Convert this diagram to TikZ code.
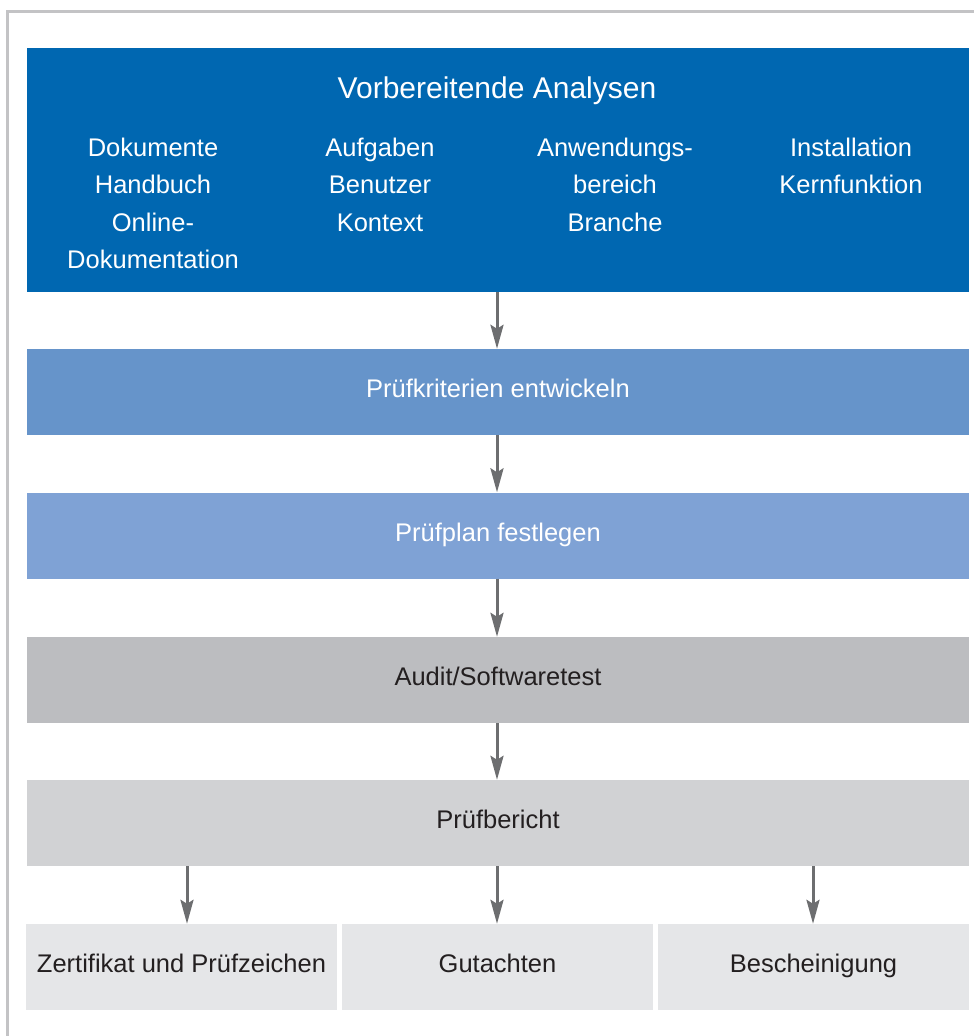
\documentclass[tikz,border=0pt]{standalone}
\usepackage{fontspec}
\setmainfont{Liberation Sans}
\usetikzlibrary{arrows.meta}
\definecolor{frame}{HTML}{C3C3C5}
\definecolor{dblue}{HTML}{0067B1}
\definecolor{mblue}{HTML}{6694CA}
\definecolor{lblue}{HTML}{7FA2D5}
\definecolor{dgray}{HTML}{BCBDC0}
\definecolor{mgray}{HTML}{D1D2D4}
\definecolor{lgray}{HTML}{E5E6E8}
\definecolor{arrgray}{HTML}{6D6E70}
\definecolor{txt}{HTML}{231F20}
\tikzset{
  bar/.style={rectangle, inner sep=0pt, minimum width=942pt, minimum height=86pt, text height=18.3pt, text depth=7pt, font=\fontsize{25.5}{37.5}\selectfont},
  leaf/.style={rectangle, inner sep=0pt, minimum width=311pt, minimum height=86pt, text height=18.3pt, text depth=7pt, fill=lgray, text=txt, font=\fontsize{25.5}{37.5}\selectfont},
  coltext/.style={inner sep=0pt, align=center, text=white, anchor=base, font=\fontsize{25.5}{37.5}\selectfont},
  arr/.style={draw=arrgray, line width=3pt, -{Stealth[length=24pt, width=13pt, inset=4pt]}, shorten >=0pt}
}
\begin{document}
\begin{tikzpicture}[x=1pt, y=-1pt]
\useasboundingbox (0,0) rectangle (974,1036);
% frame
\draw[frame, line width=3pt] (7.5,1040) -- (7.5,11.5) -- (980,11.5);
% top box
\node[rectangle, fill=dblue, inner sep=0pt, minimum width=942pt, minimum height=244pt] (ana) at (498,170) {};
\node[inner sep=0pt, anchor=base, text=white, font=\fontsize{30}{36}\selectfont] (title) at (497,98) {Vorbereitende Analysen};
% multi-line nodes: base anchor = last line's baseline (first line at y=156)
\node[coltext] (c1) at (153,268.5) {Dokumente\\Handbuch\\Online-\\Dokumentation};
\node[coltext] (c2) at (380,231) {Aufgaben\\Benutzer\\Kontext};
\node[coltext] (c3) at (615,231) {Anwendungs-\\bereich\\Branche};
\node[coltext] (c4) at (851,193.5) {Installation\\Kernfunktion};
% bars
\node[bar, fill=mblue, text=white] (b2) at (498,392) {Prüfkriterien entwickeln};
\node[bar, fill=lblue, text=white] (b3) at (498,535.5) {Prüfplan festlegen};
\node[bar, fill=dgray, text=txt] (b4) at (498,680) {Audit/Softwaretest};
\node[bar, fill=mgray, text=txt] (b5) at (498,823) {Prüfbericht};
% leaves
\node[leaf] (z) at (181.5,967) {Zertifikat und Prüfzeichen};
\node[leaf] (g) at (497.5,967) {Gutachten};
\node[leaf] (be) at (813.5,967) {Bescheinigung};
% arrows
\draw[arr] (ana.south -| 497,0) -- (b2.north -| 497,0);
\draw[arr] (b2.south -| 497,0) -- (b3.north -| 497,0);
\draw[arr] (b3.south -| 497,0) -- (b4.north -| 497,0);
\draw[arr] (b4.south -| 497,0) -- (b5.north -| 497,0);
\draw[arr] (b5.south -| 187,0) -- ([xshift=5.5pt]z.north);
\draw[arr] (b5.south -| 497,0) -- ([xshift=-0.5pt]g.north);
\draw[arr] (b5.south -| 813,0) -- ([xshift=-0.5pt]be.north);
\end{tikzpicture}
\end{document}
